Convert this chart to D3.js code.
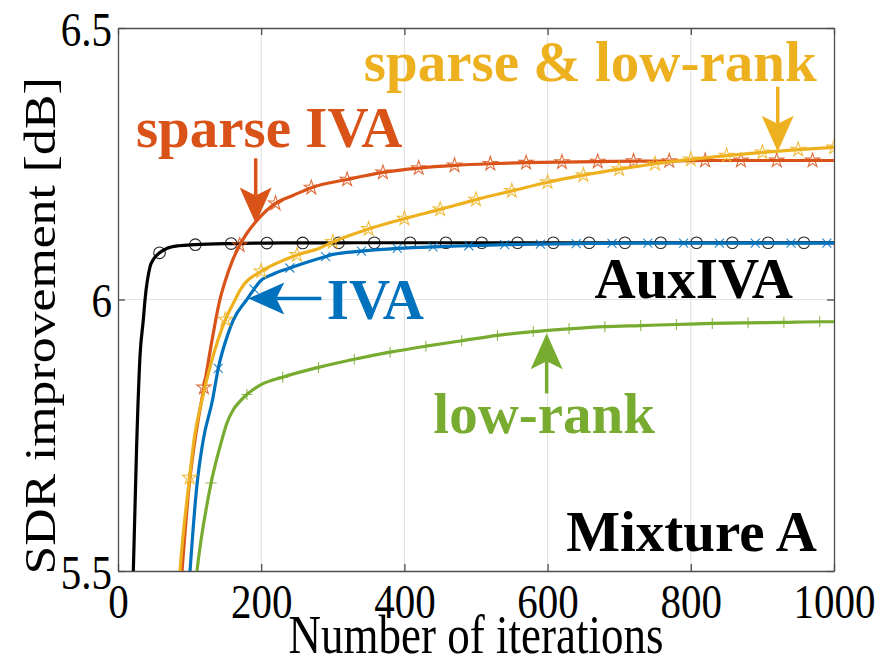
<!DOCTYPE html>
<html>
<head>
<meta charset="utf-8">
<script src="https://cdn.jsdelivr.net/npm/d3@7"></script>
<style>
html,body{margin:0;padding:0;background:#fff;}
svg{display:block;}
text{font-family:"Liberation Serif","Times New Roman",serif;}
</style>
</head>
<body>
<svg id="chart" width="890" height="666"></svg>
<script>
// ---------------- data ----------------
const xTicks = [0, 200, 400, 600, 800, 1000];
const yTicks = [5.5, 6, 6.5];
const yTickLabels = ["5.5", "6", "6.5"];

// AuxIVA (black, circles)
const auxIter = [20, 21.4, 26, 30.7, 35.3, 37.7, 44.7, 50, 58, 68, 85, 108, 158, 208, 258, 308, 358, 408, 458, 508, 558, 608, 658, 708, 758, 808, 858, 908, 958, 1000];
const auxVal  = [5.44, 5.5, 5.729, 5.895, 5.962, 5.999, 6.060, 6.075, 6.086, 6.094, 6.099, 6.101, 6.103, 6.104, 6.1042, 6.1044, 6.1045, 6.1045, 6.1045, 6.1045, 6.1045, 6.1045, 6.1045, 6.1045, 6.1045, 6.1045, 6.1045, 6.1045, 6.1045, 6.1045];
const auxMarkers = [58, 108, 158, 208, 258, 308, 358, 408, 458, 508, 558, 608, 658, 708, 758, 808, 858, 908, 958];

// IVA (blue, x)
const ivaIter = [98, 100.6, 110, 119, 132, 140, 154, 161, 180, 190, 198, 217, 240, 282, 290, 300, 340, 390, 440, 490, 540, 590, 640, 690, 740, 790, 840, 890, 940, 990, 1000];
const ivaVal  = [5.45, 5.5, 5.655, 5.741, 5.815, 5.873, 5.938, 5.962, 6.0, 6.019, 6.033, 6.047, 6.058, 6.076, 6.079, 6.083, 6.089, 6.094, 6.097, 6.099, 6.101, 6.102, 6.103, 6.1035, 6.104, 6.104, 6.104, 6.104, 6.104, 6.104, 6.104];
const ivaMarkers = [140, 190, 240, 290, 340, 390, 440, 490, 540, 590, 640, 690, 740, 790, 840, 890, 940, 990];

// sparse IVA (red, pentagram)
const spIter = [86, 89.4, 99.2, 107.5, 116.9, 120, 133.1, 141.5, 150, 160, 170, 180, 191, 220, 245, 270, 320, 370, 420, 470, 520, 570, 620, 670, 720, 770, 820, 870, 920, 970, 1000];
const spVal  = [5.44, 5.5, 5.655, 5.741, 5.815, 5.838, 5.938, 5.995, 6.035, 6.072, 6.100, 6.122, 6.141, 6.177, 6.192, 6.206, 6.221, 6.234, 6.242, 6.247, 6.250, 6.252, 6.253, 6.254, 6.255, 6.255, 6.256, 6.256, 6.256, 6.256, 6.256];
const spMarkers = [120, 170, 220, 270, 320, 370, 420, 470, 520, 570, 620, 670, 720, 770, 820, 870, 920, 970];

// low-rank (green, +)
const lrIter = [107, 110.3, 130, 145, 152, 161, 170, 180, 198, 230, 280, 330, 380, 430, 480, 530, 580, 630, 680, 730, 780, 830, 880, 930, 980, 1000];
const lrVal  = [5.46, 5.5, 5.662, 5.741, 5.772, 5.797, 5.812, 5.825, 5.842, 5.857, 5.875, 5.890, 5.903, 5.914, 5.924, 5.934, 5.941, 5.946, 5.950, 5.952, 5.954, 5.956, 5.957, 5.958, 5.959, 5.959];
const lrMarkers = [130, 180, 230, 280, 330, 380, 430, 480, 530, 580, 630, 680, 730, 780, 830, 880, 930, 980];

// sparse & low-rank (yellow, pentagram)
const slIter = [84, 86.6, 100, 106.1, 117.3, 131.3, 150, 163.4, 170.4, 200, 222, 250, 282, 300, 350, 400, 450, 500, 550, 600, 650, 700, 750, 800, 850, 900, 950, 1000];
const slVal  = [5.45, 5.5, 5.672, 5.741, 5.815, 5.889, 5.963, 5.999, 6.017, 6.052, 6.067, 6.082, 6.095, 6.106, 6.130, 6.149, 6.166, 6.184, 6.200, 6.216, 6.229, 6.240, 6.250, 6.258, 6.265, 6.271, 6.276, 6.280];
const slMarkers = [100, 150, 200, 250, 300, 350, 400, 450, 500, 550, 600, 650, 700, 750, 800, 850, 900, 950, 1000];

// ---------------- layout ----------------
const svg = d3.select("#chart");
const L = 118, R = 834, T = 28, B = 571;
const x = d3.scaleLinear().domain([0, 1000]).range([L, R]);
const y = d3.scaleLinear().domain([5.5, 6.5]).range([B, T]);

const COL = {black: "#000000", blue: "#0072BD", red: "#D95319", yellow: "#EDB120", green: "#77AC30"};
const STRETCH = 1.2; // regular text in the reference is drawn vertically stretched

svg.append("defs").append("clipPath").attr("id", "clip")
  .append("rect").attr("x", L).attr("y", T).attr("width", R - L).attr("height", B - T);

// grid
const grid = svg.append("g");
grid.selectAll("line.gx").data(xTicks.slice(1, -1)).enter().append("line")
  .attr("x1", d => x(d)).attr("x2", d => x(d)).attr("y1", T).attr("y2", B)
  .attr("stroke", "#e3e3e3").attr("stroke-width", 1.2);
grid.selectAll("line.gy").data(yTicks.slice(1, -1)).enter().append("line")
  .attr("x1", L).attr("x2", R).attr("y1", d => y(d)).attr("y2", d => y(d))
  .attr("stroke", "#e3e3e3").attr("stroke-width", 1.2);

// axes (MATLAB style: inward ticks, box)
const axisColor = "#4d4d4d";
const tickFont = 41;
const gx = svg.append("g").attr("transform", `translate(0,${B})`)
  .call(d3.axisBottom(x).tickValues(xTicks).tickSizeInner(-7).tickSizeOuter(0).tickFormat(d3.format("d")));
const gxTop = svg.append("g").attr("transform", `translate(0,${T})`)
  .call(d3.axisTop(x).tickValues(xTicks).tickSizeInner(-7).tickSizeOuter(0).tickFormat(""));
const gy = svg.append("g").attr("transform", `translate(${L},0)`)
  .call(d3.axisLeft(y).tickValues(yTicks).tickSizeInner(-7).tickSizeOuter(0).tickPadding(6).tickFormat((d, i) => yTickLabels[i]));
const gyR = svg.append("g").attr("transform", `translate(${R},0)`)
  .call(d3.axisRight(y).tickValues(yTicks).tickSizeInner(-7).tickSizeOuter(0).tickFormat(""));
[gx, gxTop, gy, gyR].forEach(g => {
  g.selectAll("path.domain").attr("stroke", axisColor).attr("stroke-width", 1.3);
  g.selectAll(".tick line").attr("stroke", axisColor).attr("stroke-width", 1.3);
  g.selectAll(".tick text").attr("fill", "#000").style("font-size", tickFont + "px")
    .style("font-family", '"Liberation Serif", serif');
});
// vertical stretch of tick labels
gx.selectAll(".tick text").attr("y", 47 / STRETCH).attr("dy", 0).attr("transform", `scale(1,${STRETCH})`);
gy.selectAll(".tick text").attr("dy", "0.35em").attr("transform", `scale(1,${STRETCH})`);

// axis titles
svg.append("text").attr("transform", `translate(${(L + R) / 2},653) scale(1,${STRETCH})`).attr("text-anchor", "middle")
  .style("font-size", "45px").attr("fill", "#000").text("Number of iterations");
svg.append("text").attr("transform", `translate(55,326) rotate(-90) scale(1.15,1)`).attr("text-anchor", "middle")
  .style("font-size", "45px").attr("fill", "#000").text("SDR improvement [dB]");

// ---------------- series ----------------
const line = d3.line().x(d => x(d[0])).y(d => y(d[1])).curve(d3.curveMonotoneX);
const plot = svg.append("g").attr("clip-path", "url(#clip)");

function starPath(r) {
  const pts = [];
  const ri = r * 0.382;
  for (let i = 0; i < 10; i++) {
    const a = -Math.PI / 2 + i * Math.PI / 5;
    const rr = i % 2 === 0 ? r : ri;
    pts.push([rr * Math.cos(a), rr * Math.sin(a)]);
  }
  return "M" + pts.map(p => p[0].toFixed(2) + "," + p[1].toFixed(2)).join("L") + "Z";
}
const markerPaths = {
  circle: "M5.8,0A5.8,5.8 0 1,1 -5.8,0A5.8,5.8 0 1,1 5.8,0Z",
  star: starPath(7.5),
  cross: "M-4.5,-4.5L4.5,4.5M-4.5,4.5L4.5,-4.5",
  plus: "M-5.5,0L5.5,0M0,-5.5L0,5.5"
};

function drawSeries(iters, vals, markers, color, marker) {
  const pts = iters.map((t, i) => [t, vals[i]]);
  const g = plot.append("g");
  g.append("path").datum(pts).attr("d", line).attr("fill", "none")
    .attr("stroke", color).attr("stroke-width", 3.2).attr("stroke-linejoin", "round");
  const mk = pts.filter(p => markers.includes(p[0]));
  g.selectAll("path.mk").data(mk).enter().append("path")
    .attr("class", "mk")
    .attr("transform", d => `translate(${x(d[0])},${y(d[1])})`)
    .attr("d", markerPaths[marker]).attr("fill", "none")
    .attr("stroke", color).attr("stroke-width", 1.1).attr("stroke-opacity", 0.85);
}

drawSeries(auxIter, auxVal, auxMarkers, COL.black, "circle");
drawSeries(ivaIter, ivaVal, ivaMarkers, COL.blue, "cross");
drawSeries(spIter, spVal, spMarkers, COL.red, "star");
drawSeries(lrIter, lrVal, lrMarkers, COL.green, "plus");
drawSeries(slIter, slVal, slMarkers, COL.yellow, "star");

// ---------------- annotations ----------------
const annFont = "57px";
function label(txt, xv, yv, anchor, color) {
  svg.append("text").attr("x", x(xv)).attr("y", y(yv)).attr("text-anchor", anchor)
    .style("font-size", annFont).style("font-weight", "bold").attr("fill", color).text(txt);
}
function arrow(x0, y0, x1, y1, color) {
  const X0 = x(x0), Y0 = y(y0), X1 = x(x1), Y1 = y(y1);
  const ang = Math.atan2(Y1 - Y0, X1 - X0);
  const hl = 36, hw = 16, notch = 8;
  const ux = Math.cos(ang), uy = Math.sin(ang), px = -uy, py = ux;
  const bx = X1 - ux * hl, by = Y1 - uy * hl;
  svg.append("line").attr("x1", X0).attr("y1", Y0).attr("x2", X1 - ux * (hl - notch)).attr("y2", Y1 - uy * (hl - notch))
    .attr("stroke", color).attr("stroke-width", 3.5);
  const p = [[X1, Y1], [bx + px * hw, by + py * hw], [X1 - ux * (hl - notch), Y1 - uy * (hl - notch)], [bx - px * hw, by - py * hw]];
  svg.append("path").attr("d", "M" + p.map(q => q.join(",")).join("L") + "Z").attr("fill", color);
}

label("sparse IVA", 25, 6.2814, "start", COL.red);
arrow(192.3, 6.260, 192.3, 6.140, COL.red);

label("sparse & low-rank", 975.8, 6.403, "end", COL.yellow);
arrow(921.4, 6.392, 921.4, 6.272, COL.yellow);

label("IVA", 291.5, 5.9635, "start", COL.blue);
arrow(284, 6.002, 182, 6.002, COL.blue);

label("AuxIVA", 942.7, 6.0022, "end", COL.black);

label("low-rank", 440.4, 5.755, "start", COL.green);
arrow(598.7, 5.827, 598.7, 5.938, COL.green);

label("Mixture A", 976, 5.536, "end", COL.black);
</script>
</body>
</html>
